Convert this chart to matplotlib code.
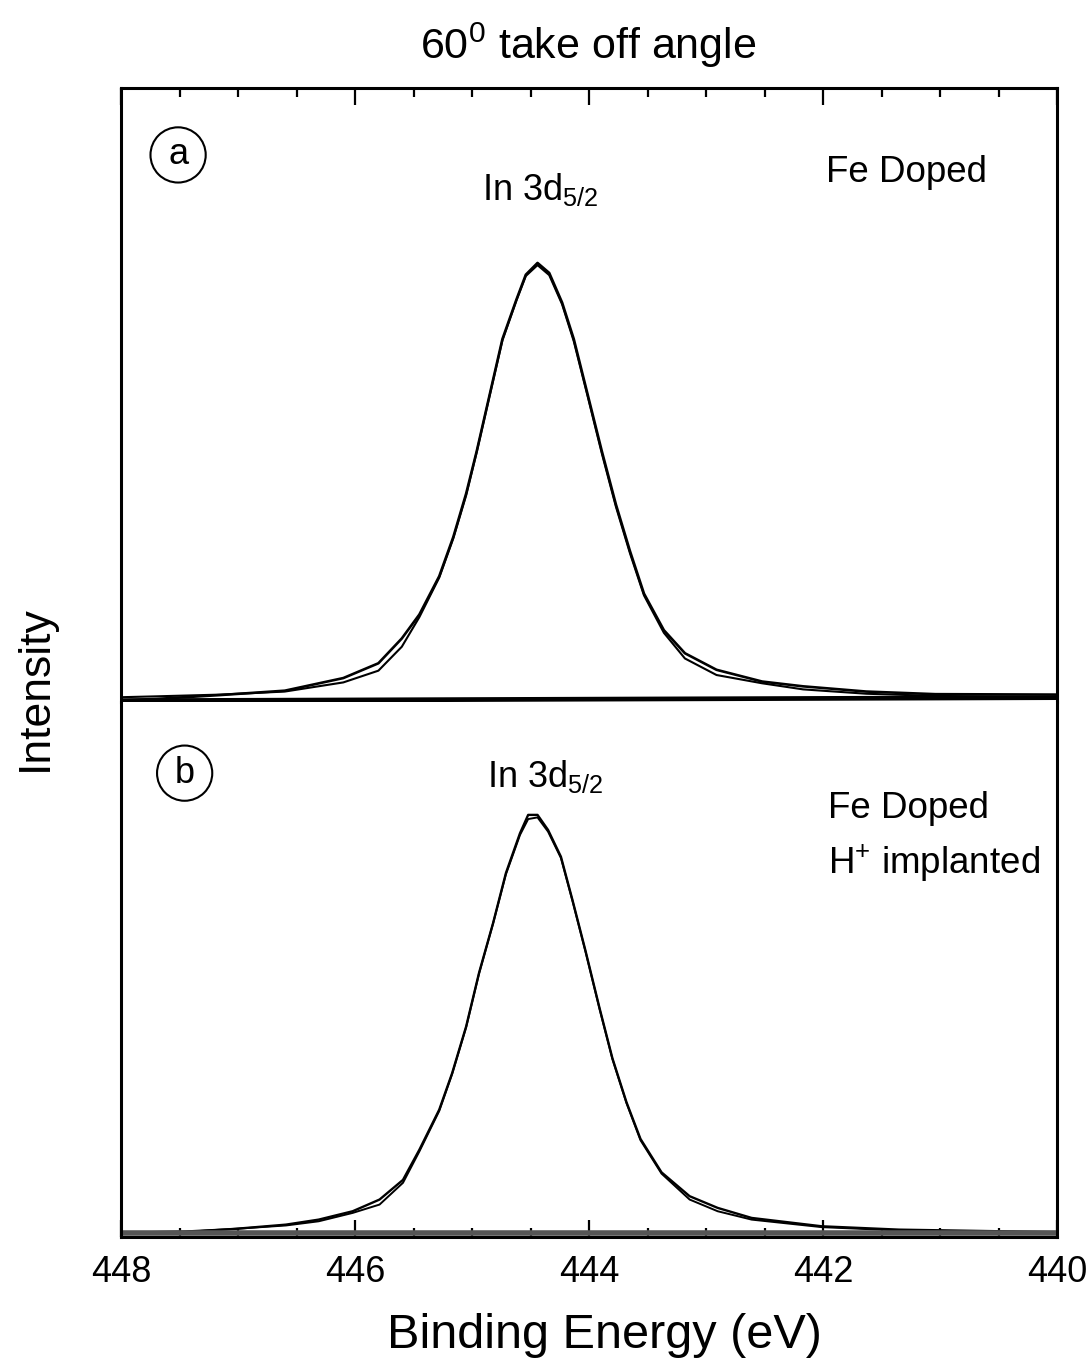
import matplotlib
matplotlib.use('Agg')
import matplotlib.pyplot as plt
from matplotlib.ticker import MultipleLocator

plt.rcParams['font.family'] = ['Liberation Sans', 'DejaVu Sans']
plt.rcParams['mathtext.fontset'] = 'custom'
plt.rcParams['mathtext.rm'] = 'Liberation Sans'
plt.rcParams['mathtext.it'] = 'Liberation Sans:italic'

# (a) Fe doped, In 3d5/2 : binding energy (eV) and normalised intensity
energy_a = [448.0, 447.7, 447.15, 446.6, 446.1, 445.8, 445.6, 445.45, 445.28, 445.16,
            445.05, 444.96, 444.85, 444.74, 444.62, 444.54, 444.44, 444.34, 444.23,
            444.13, 444.01, 443.89, 443.77, 443.65, 443.53, 443.36, 443.18, 442.91,
            442.52, 442.17, 441.63, 441.04, 440.0]
exp_a = [-0.005, -0.002, 0.007, 0.017, 0.046, 0.080, 0.137, 0.192, 0.280, 0.370,
         0.470, 0.567, 0.696, 0.825, 0.916, 0.973, 1.0, 0.977, 0.909,
         0.825, 0.696, 0.567, 0.445, 0.338, 0.240, 0.156, 0.103, 0.065,
         0.038, 0.027, 0.015, 0.009, 0.008]
fit_a = [0.002, 0.004, 0.008, 0.015, 0.036, 0.063, 0.118, 0.186, 0.277, 0.367,
         0.466, 0.565, 0.694, 0.822, 0.914, 0.970, 0.995, 0.972, 0.905,
         0.820, 0.692, 0.562, 0.440, 0.333, 0.236, 0.150, 0.091, 0.053,
         0.034, 0.020, 0.010, 0.005, 0.002]
bg_energy_a = [448.0, 440.0]
bg_a = [-0.006, 0.001]

# (b) Fe doped + H+ implanted
energy_b = [448.0, 447.45, 447.02, 446.59, 446.31, 446.02, 445.79, 445.59, 445.45, 445.28,
            445.17, 445.05, 444.94, 444.82, 444.71, 444.59, 444.52, 444.44, 444.35,
            444.24, 444.14, 444.03, 443.91, 443.80, 443.68, 443.56, 443.38, 443.14,
            442.90, 442.61, 442.01, 441.35, 440.46, 440.0]
exp_b = [-0.002, 0.002, 0.010, 0.020, 0.032, 0.052, 0.080, 0.127, 0.199, 0.295,
         0.382, 0.494, 0.622, 0.741, 0.861, 0.956, 1.0, 1.0, 0.964,
         0.900, 0.795, 0.675, 0.538, 0.418, 0.313, 0.225, 0.145, 0.088,
         0.060, 0.036, 0.016, 0.008, 0.004, 0.002]
fit_b = [0.001, 0.004, 0.010, 0.018, 0.028, 0.048, 0.068, 0.120, 0.195, 0.292,
         0.380, 0.492, 0.620, 0.740, 0.858, 0.952, 0.990, 0.994, 0.960,
         0.897, 0.793, 0.673, 0.536, 0.416, 0.311, 0.222, 0.142, 0.080,
         0.052, 0.032, 0.014, 0.006, 0.003, 0.001]
bg_energy_b = [448.0, 440.0]
bg_b = [0.0, 0.0]

W, H = 1089, 1366
fig = plt.figure(figsize=(W / 100, H / 100), dpi=100)

left, right = 121 / W, 1057 / W
top_a, mid, bot_b = 88, 702, 1237
ax_a = fig.add_axes([left, 1 - mid / H, right - left, (mid - top_a) / H])
ax_b = fig.add_axes([left, 1 - bot_b / H, right - left, (bot_b - mid) / H])

for ax in (ax_a, ax_b):
    ax.set_xlim(448, 440)
    ax.set_yticks([])
    ax.xaxis.set_major_locator(MultipleLocator(2))
    ax.xaxis.set_minor_locator(MultipleLocator(0.5))
    ax.tick_params(axis='x', which='major', direction='in', length=12, width=1.6)
    ax.tick_params(axis='x', which='minor', direction='in', length=6.5, width=1.6)
    for s in ax.spines.values():
        s.set_linewidth(2.2)

ax_a.set_ylim(-0.009, 1.402)
ax_a.spines['bottom'].set_visible(False)
ax_a.tick_params(axis='x', which='both', bottom=False, top=True,
                 labelbottom=False, labeltop=False)

ax_b.set_ylim(-0.0096, 1.270)
ax_b.spines['top'].set_visible(False)
ax_b.tick_params(axis='x', which='both', bottom=True, top=False, labelsize=26, pad=13)
ax_b.set_xticks([448, 446, 444, 442, 440])

# spectra, fits and backgrounds
ax_a.plot(energy_a, exp_a, color='black', lw=1.9)
ax_a.plot(energy_a, fit_a, color='black', lw=1.5)
ax_a.plot(bg_energy_a, bg_a, color='black', lw=3.4)

ax_b.plot(energy_b, exp_b, color='black', lw=1.7)
ax_b.plot(energy_b, fit_b, color='black', lw=1.4)
ax_b.plot(bg_energy_b, bg_b, color='#555555', lw=4)

circ = dict(boxstyle='circle,pad=0.28', fc='none', ec='black', lw=1.5)
ax_a.text(0.061, 0.891, 'a', transform=ax_a.transAxes, fontsize=26,
          ha='center', va='center', bbox=circ)
ax_b.text(0.068, 0.867, 'b', transform=ax_b.transAxes, fontsize=26,
          ha='center', va='center', bbox=circ)

ax_a.text(0.448, 0.818, 'In 3d$_{5/2}$', transform=ax_a.transAxes,
          fontsize=26, ha='center', va='baseline')
ax_b.text(0.453, 0.841, 'In 3d$_{5/2}$', transform=ax_b.transAxes,
          fontsize=26, ha='center', va='baseline')

ax_a.text(0.753, 0.847, 'Fe Doped', transform=ax_a.transAxes,
          fontsize=26.5, ha='left', va='baseline')
ax_b.text(0.755, 0.783, 'Fe Doped', transform=ax_b.transAxes,
          fontsize=26.5, ha='left', va='baseline')
ax_b.text(0.755, 0.680, 'H$^{+}$ implanted', transform=ax_b.transAxes,
          fontsize=26.5, ha='left', va='baseline')

fig.text(588 / W, 1 - 45 / H, '60$^{0}$ take off angle', fontsize=31,
         ha='center', va='center')
fig.text(604 / W, 1 - 1336 / H, 'Binding Energy (eV)', fontsize=35,
         ha='center', va='center')
fig.text(35 / W, 1 - 688 / H, 'Intensity', fontsize=32, rotation=90,
         ha='center', va='center')

fig.savefig('out.png', dpi=100)
